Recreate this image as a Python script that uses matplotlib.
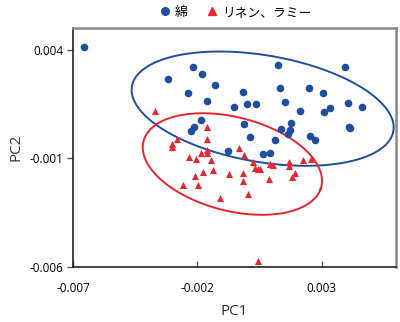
import matplotlib
matplotlib.use("Agg")
import numpy as np
import matplotlib.pyplot as plt
from matplotlib.lines import Line2D

plt.rcParams["font.family"] = ["Open Sans", "Noto Sans CJK JP", "DejaVu Sans"]

# 主成分得点 (×1e-3)
cotton_pc1 = [-6.55, -2.18, -1.81, -3.19, -1.27, -2.38, -1.60, 1.24, 3.95, 1.32,
              2.51, 3.07, -0.17, 0.01, 0.36, -0.51, 1.52, 2.14, 3.11, 3.36,
              4.06, 4.64, -1.85, -2.13, -2.27, -0.14, 1.76, 1.73, 1.36, 1.65,
              4.09, 4.16, 0.11, 1.14, 2.52, 2.72, -0.76, 0.66, 0.92]
cotton_pc2 = [4.15, 3.20, 2.89, 2.65, 2.37, 2.02, 1.65, 3.31, 3.23, 2.25,
              2.25, 2.03, 2.05, 1.51, 1.51, 1.37, 1.60, 1.20, 1.14, 1.34,
              1.57, 1.37, 0.77, 0.46, 0.26, 0.57, 0.62, 0.31, 0.35, 0.12,
              0.46, 0.39, -0.01, -0.15, 0.05, -0.15, -0.66, -0.79, -0.77]

linen_pc1 = [-3.69, -1.62, -1.62, -2.81, -3.01, -3.01, -1.62, -1.62, -1.84, -2.32,
             -2.06, -1.45, -0.32, -0.12, 0.23, 0.31, 0.44, 0.51, 0.92, 1.03,
             1.71, 1.71, 2.24, 2.59, 1.94, 1.83, 0.87, -1.35, -1.78, -2.10,
             -0.71, -0.16, -0.16, -2.57, -1.97, -1.08, 0.05, 0.44]
linen_pc2 = [1.20, 0.46, -0.12, -0.12, -0.34, -0.49, -0.61, -0.73, -0.77, -0.95,
             -1.03, -1.06, -0.52, -0.85, -1.17, -1.43, -1.51, -1.51, -1.25, -1.32,
             -1.17, -1.35, -1.06, -1.03, -1.66, -1.85, -1.97, -1.55, -1.63, -1.80,
             -1.74, -1.66, -2.05, -2.22, -2.24, -2.82, -2.66, -5.74]

# 信頼楕円 (中心x, 中心y, 長軸, 短軸, 角度[deg]) ×1e-3
cotton_ellipse = [0.63, 1.29, 10.73, 4.89, -11.8]
linen_ellipse = [-0.59, -1.26, 7.47, 4.27, -18.2]

labels = ["綿", "リネン、ラミー"]
xticks = [-0.007, -0.002, 0.003]
yticks = [-0.006, -0.001, 0.004]

BLUE = "#1f4e9e"
RED = "#e8262e"
S = 1e-3


def ellipse_xy(cx, cy, w, h, ang, n=200):
    # データ座標上で楕円の輪郭を作る
    t = np.linspace(0, 2 * np.pi, n)
    a = np.radians(ang)
    ex = 0.5 * w * np.cos(t)
    ey = 0.5 * h * np.sin(t)
    x = cx + ex * np.cos(a) - ey * np.sin(a)
    y = cy + ex * np.sin(a) + ey * np.cos(a)
    return x * S, y * S


fig = plt.figure(figsize=(4.0, 3.22), dpi=100)
ax = fig.add_axes([0.183, 0.171, 0.807, 0.743])

ax.scatter([v * S for v in cotton_pc1], [v * S for v in cotton_pc2],
           s=30, marker="o", color=BLUE, linewidths=0, zorder=3)
ax.scatter([v * S for v in linen_pc1], [v * S for v in linen_pc2],
           s=26, marker="^", color=RED, linewidths=0, zorder=3)

for params, c in [(cotton_ellipse, BLUE), (linen_ellipse, RED)]:
    ex, ey = ellipse_xy(*params)
    ax.plot(ex, ey, color=c, lw=1.4, zorder=2)

ax.set_xlim(-0.007, 0.006)
ax.set_ylim(-0.006, 0.00502)
ax.set_xticks(xticks)
ax.set_yticks(yticks)
ax.set_xticklabels([f"{t:.3f}" for t in xticks])
ax.set_yticklabels([f"{t:.3f}" for t in yticks])
ax.tick_params(axis="x", direction="in", length=4, width=1, labelsize=8.5,
               pad=11, color="#555555")
ax.tick_params(axis="y", direction="out", length=4, width=1, labelsize=8.5,
               pad=3, color="#555555")

for side in ["left", "bottom"]:
    ax.spines[side].set_color("#222222")
    ax.spines[side].set_linewidth(1.2)
for side in ["right", "top"]:
    ax.spines[side].set_color("#888888")
    ax.spines[side].set_linewidth(1.8)

ax.set_xlabel("PC1", fontsize=11, labelpad=6, color="#333333")
ax.set_ylabel("PC2", fontsize=11, labelpad=4, color="#333333")

handles = [
    Line2D([], [], ls="none", marker="o", color=BLUE, markersize=5.5),
    Line2D([], [], ls="none", marker="^", color=RED, markersize=5.5),
]
fig.legend(handles, labels, loc="center", bbox_to_anchor=(0.59, 0.962),
           ncol=2, frameon=False, fontsize=9.2, handlelength=0.7,
           handletextpad=0.4, columnspacing=1.6, borderaxespad=0)

fig.savefig("out.png", dpi=100)
